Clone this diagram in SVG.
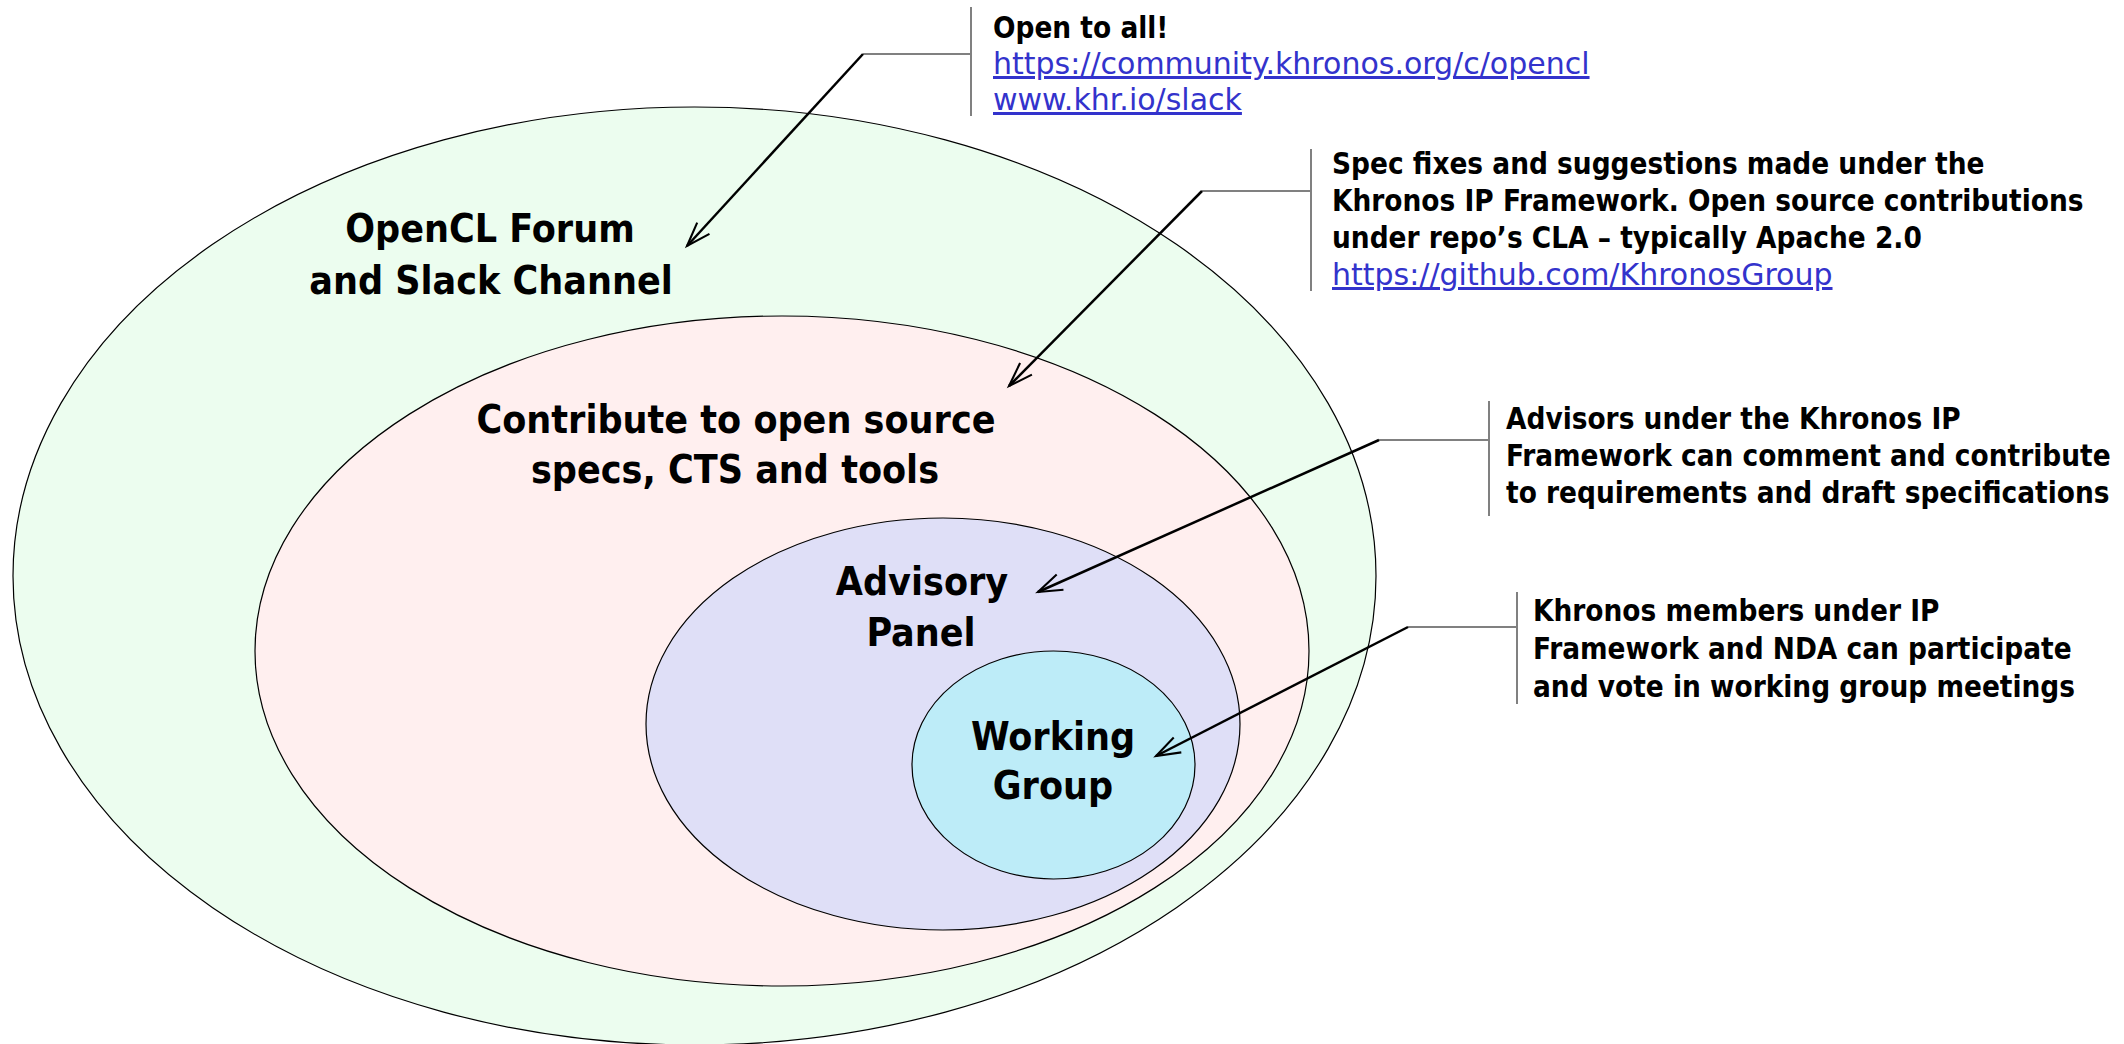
<svg xmlns="http://www.w3.org/2000/svg" width="2124" height="1044" viewBox="0 0 2124 1044">
<defs>
<style>
.ring{stroke:#000;stroke-width:1.2}
.lbl{font-family:"DejaVu Sans Condensed","DejaVu Sans",sans-serif;font-weight:bold;font-size:39px;fill:#000;text-anchor:middle}
.note{font-family:"DejaVu Sans Condensed","DejaVu Sans",sans-serif;font-weight:bold;font-size:29.4px;fill:#000}
.link{font-family:"DejaVu Sans",sans-serif;font-size:30px;fill:#3333CC;text-decoration:underline}
.bar{stroke:#808080;stroke-width:2;fill:none}
.hz{stroke:#808080;stroke-width:2;fill:none}
.dg{stroke:#000;stroke-width:2.5;fill:none;marker-end:url(#arr)}
</style>
<marker id="arr" viewBox="0 0 12 12" refX="11" refY="6" markerWidth="10" markerHeight="10" markerUnits="userSpaceOnUse" orient="auto" overflow="visible">
<path d="M-18,-4 L11,6 L-18,16" fill="none" stroke="#000" stroke-width="2.5"/>
</marker>
</defs>
<rect width="2124" height="1044" fill="#fff"/>
<g id="forum">
<ellipse class="ring" cx="694.5" cy="576" rx="681.5" ry="469" fill="#ECFDEF"/>
<text class="lbl" x="490" y="242">OpenCL Forum</text>
<text class="lbl" x="491" y="294">and Slack Channel</text>
</g>
<g id="contribute">
<ellipse class="ring" cx="782" cy="651" rx="527" ry="335" fill="#FFEFEF"/>
<text class="lbl" x="736" y="433">Contribute to open source</text>
<text class="lbl" x="735" y="483">specs, CTS and tools</text>
</g>
<g id="advisory">
<ellipse class="ring" cx="943" cy="724" rx="297" ry="206" fill="#DFDFF7"/>
<text class="lbl" x="922" y="595">Advisory</text>
<text class="lbl" x="921" y="646">Panel</text>
</g>
<g id="working">
<ellipse class="ring" cx="1053.5" cy="765" rx="141.5" ry="114" fill="#BDECF8"/>
<text class="lbl" x="1053" y="750">Working</text>
<text class="lbl" x="1053" y="799">Group</text>
</g>
<g id="note-open">
<line class="bar" x1="971" y1="7" x2="971" y2="116"/>
<text class="note" x="993" y="38">Open to all!</text>
<text class="link" x="993" y="74">https://community.khronos.org/c/opencl</text>
<text class="link" x="993" y="110">www.khr.io/slack</text>
</g>
<g id="note-spec">
<line class="bar" x1="1311" y1="149" x2="1311" y2="291"/>
<text class="note" x="1332" y="174">Spec fixes and suggestions made under the</text>
<text class="note" x="1332" y="211">Khronos IP Framework. Open source contributions</text>
<text class="note" x="1332" y="248">under repo’s CLA – typically Apache 2.0</text>
<text class="link" x="1332" y="285">https://github.com/KhronosGroup</text>
</g>
<g id="note-advisors">
<line class="bar" x1="1489" y1="401" x2="1489" y2="516"/>
<text class="note" x="1506" y="429">Advisors under the Khronos IP</text>
<text class="note" x="1506" y="466">Framework can comment and contribute</text>
<text class="note" x="1506" y="503">to requirements and draft specifications</text>
</g>
<g id="note-members">
<line class="bar" x1="1517" y1="592" x2="1517" y2="704"/>
<text class="note" x="1533" y="621">Khronos members under IP</text>
<text class="note" x="1533" y="659">Framework and NDA can participate</text>
<text class="note" x="1533" y="697">and vote in working group meetings</text>
</g>
<g id="connectors">
<line class="hz" x1="971" y1="54" x2="863" y2="54"/>
<line class="dg" x1="863" y1="54" x2="687" y2="246"/>
<line class="hz" x1="1311" y1="191" x2="1202" y2="191"/>
<line class="dg" x1="1202" y1="191" x2="1009" y2="386"/>
<line class="hz" x1="1489" y1="440" x2="1379" y2="440"/>
<line class="dg" x1="1379" y1="440" x2="1038" y2="592"/>
<line class="hz" x1="1517" y1="627" x2="1408" y2="627"/>
<line class="dg" x1="1408" y1="627" x2="1156" y2="756"/>
</g>
</svg>
